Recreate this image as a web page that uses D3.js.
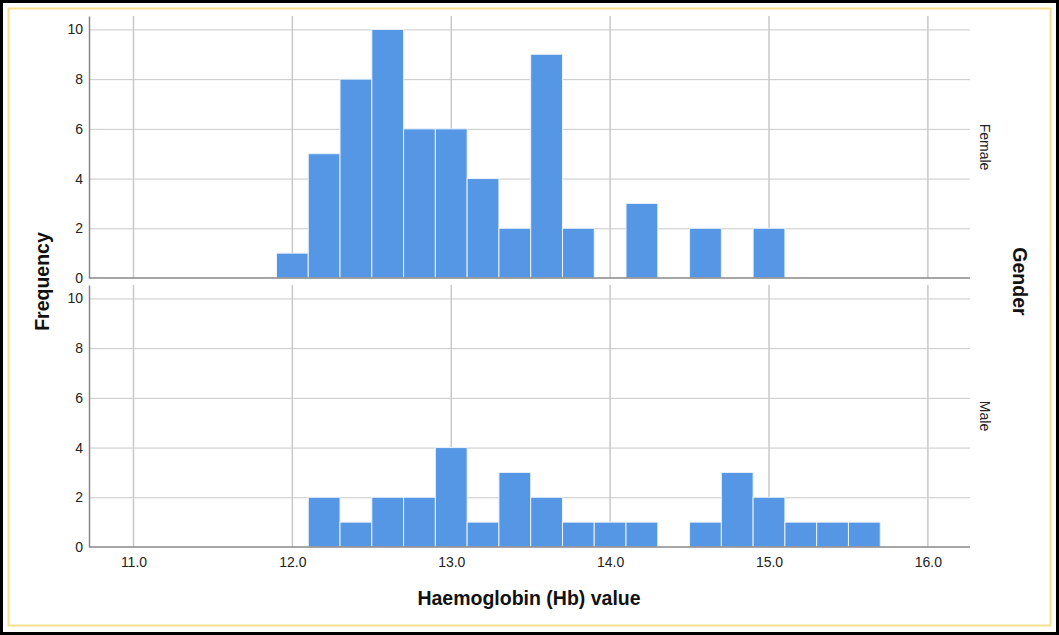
<!DOCTYPE html>
<html>
<head>
<meta charset="utf-8">
<script src="https://cdn.jsdelivr.net/npm/d3@7"></script>
<style>
  body { margin: 0; background: #fff; }
  svg { display: block; font-family: "Liberation Sans", Arial, sans-serif; }
</style>
</head>
<body>
<div id="chart"></div>
<script>
// Bin edges (lower bound of each 0.2-wide bin)
const binStarts = [11.9, 12.1, 12.3, 12.5, 12.7, 12.9, 13.1, 13.3, 13.5, 13.7, 13.9, 14.1, 14.3, 14.5, 14.7, 14.9, 15.1, 15.3, 15.5];
const femaleCounts = [1, 5, 8, 10, 6, 6, 4, 2, 9, 2, 0, 3, 0, 2, 0, 2, 0, 0, 0];
const maleCounts   = [0, 2, 1, 2, 2, 4, 1, 3, 2, 1, 1, 1, 0, 1, 3, 2, 1, 1, 1];
const binWidth = 0.2;
const panels = ["Female", "Male"];
const xTicks = [11, 12, 13, 14, 15, 16];
const yTicks = [0, 2, 4, 6, 8, 10];

const W = 1059, H = 635;
const left = 89, right = 970;
const panelBox = [{top: 16, bottom: 278}, {top: 285, bottom: 547}];

const svg = d3.select("#chart").append("svg")
    .attr("width", W).attr("height", H);

// Frame: black outer, yellow inner
svg.append("rect").attr("x", 1.5).attr("y", 1.5).attr("width", W - 3).attr("height", H - 3)
    .attr("fill", "#fff").attr("stroke", "#000").attr("stroke-width", 3);
svg.append("rect").attr("x", 8.5).attr("y", 8.5).attr("width", W - 17).attr("height", H - 18)
    .attr("fill", "none").attr("stroke", "#f7e08f").attr("stroke-width", 2);

const x = d3.scaleLinear().domain([10.72, 16.265]).range([left, right]);

const series = [femaleCounts, maleCounts];

panels.forEach((name, i) => {
    const box = panelBox[i];
    const y = d3.scaleLinear().domain([0, 10.54]).range([box.bottom, box.top]);
    const g = svg.append("g");

    // horizontal gridlines
    g.selectAll(".hgrid").data(yTicks.filter(t => t > 0)).enter().append("line")
        .attr("x1", left).attr("x2", right)
        .attr("y1", d => y(d) + 0.5).attr("y2", d => y(d) + 0.5)
        .attr("stroke", "#c9c9c9").attr("stroke-width", 1);
    // vertical gridlines
    g.selectAll(".vgrid").data(xTicks).enter().append("line")
        .attr("x1", d => x(d)).attr("x2", d => x(d))
        .attr("y1", box.top).attr("y2", box.bottom)
        .attr("stroke", "#c9c9c9").attr("stroke-width", 1.5);

    // bars
    const data = binStarts.map((b, j) => ({x0: b, count: series[i][j]})).filter(d => d.count > 0);
    g.selectAll(".bar").data(data).enter().append("rect")
        .attr("x", d => x(d.x0))
        .attr("y", d => y(d.count))
        .attr("width", d => x(d.x0 + binWidth) - x(d.x0))
        .attr("height", d => y(0) - y(d.count))
        .attr("fill", "#5596e5")
        .attr("stroke", "#eaf2fc")
        .attr("stroke-width", 1);

    // axes
    const yAxis = d3.axisLeft(y).tickValues(yTicks).tickSize(0).tickPadding(6).tickFormat(d3.format("d"));
    const ya = g.append("g").attr("transform", `translate(${left},0)`).call(yAxis);
    ya.select(".domain").attr("stroke", "#888").attr("stroke-width", 1.5);
    ya.selectAll("text").attr("font-size", 14).attr("fill", "#222")
        .attr("font-family", "Liberation Sans, Arial, sans-serif");

    g.append("line").attr("x1", left).attr("x2", right)
        .attr("y1", box.bottom).attr("y2", box.bottom)
        .attr("stroke", "#888").attr("stroke-width", 1.5);

    // panel label
    const cy = (box.top + box.bottom) / 2;
    g.append("text")
        .attr("transform", `translate(980,${cy}) rotate(90)`)
        .attr("text-anchor", "middle")
        .attr("font-size", 14).attr("fill", "#222")
        .text(name);
});

// x tick labels under bottom panel
const xAxis = d3.axisBottom(x).tickValues(xTicks).tickSize(0).tickPadding(10).tickFormat(d3.format(".1f"));
const xa = svg.append("g").attr("transform", `translate(0,${panelBox[1].bottom})`).call(xAxis);
xa.select(".domain").remove();
xa.selectAll("text").attr("font-size", 14).attr("fill", "#222")
    .attr("font-family", "Liberation Sans, Arial, sans-serif");

// titles
svg.append("text")
    .attr("x", 529).attr("y", 605)
    .attr("text-anchor", "middle").attr("font-size", 19.5).attr("font-weight", "bold")
    .attr("fill", "#111")
    .text("Haemoglobin (Hb) value");

svg.append("text")
    .attr("transform", `translate(49,${(panelBox[0].top + panelBox[1].bottom) / 2}) rotate(-90)`)
    .attr("text-anchor", "middle").attr("font-size", 19.5).attr("font-weight", "bold")
    .attr("fill", "#111")
    .text("Frequency");

svg.append("text")
    .attr("transform", `translate(1013,${(panelBox[0].top + panelBox[1].bottom) / 2}) rotate(90)`)
    .attr("text-anchor", "middle").attr("font-size", 19.5).attr("font-weight", "bold")
    .attr("fill", "#111")
    .text("Gender");
</script>
</body>
</html>
